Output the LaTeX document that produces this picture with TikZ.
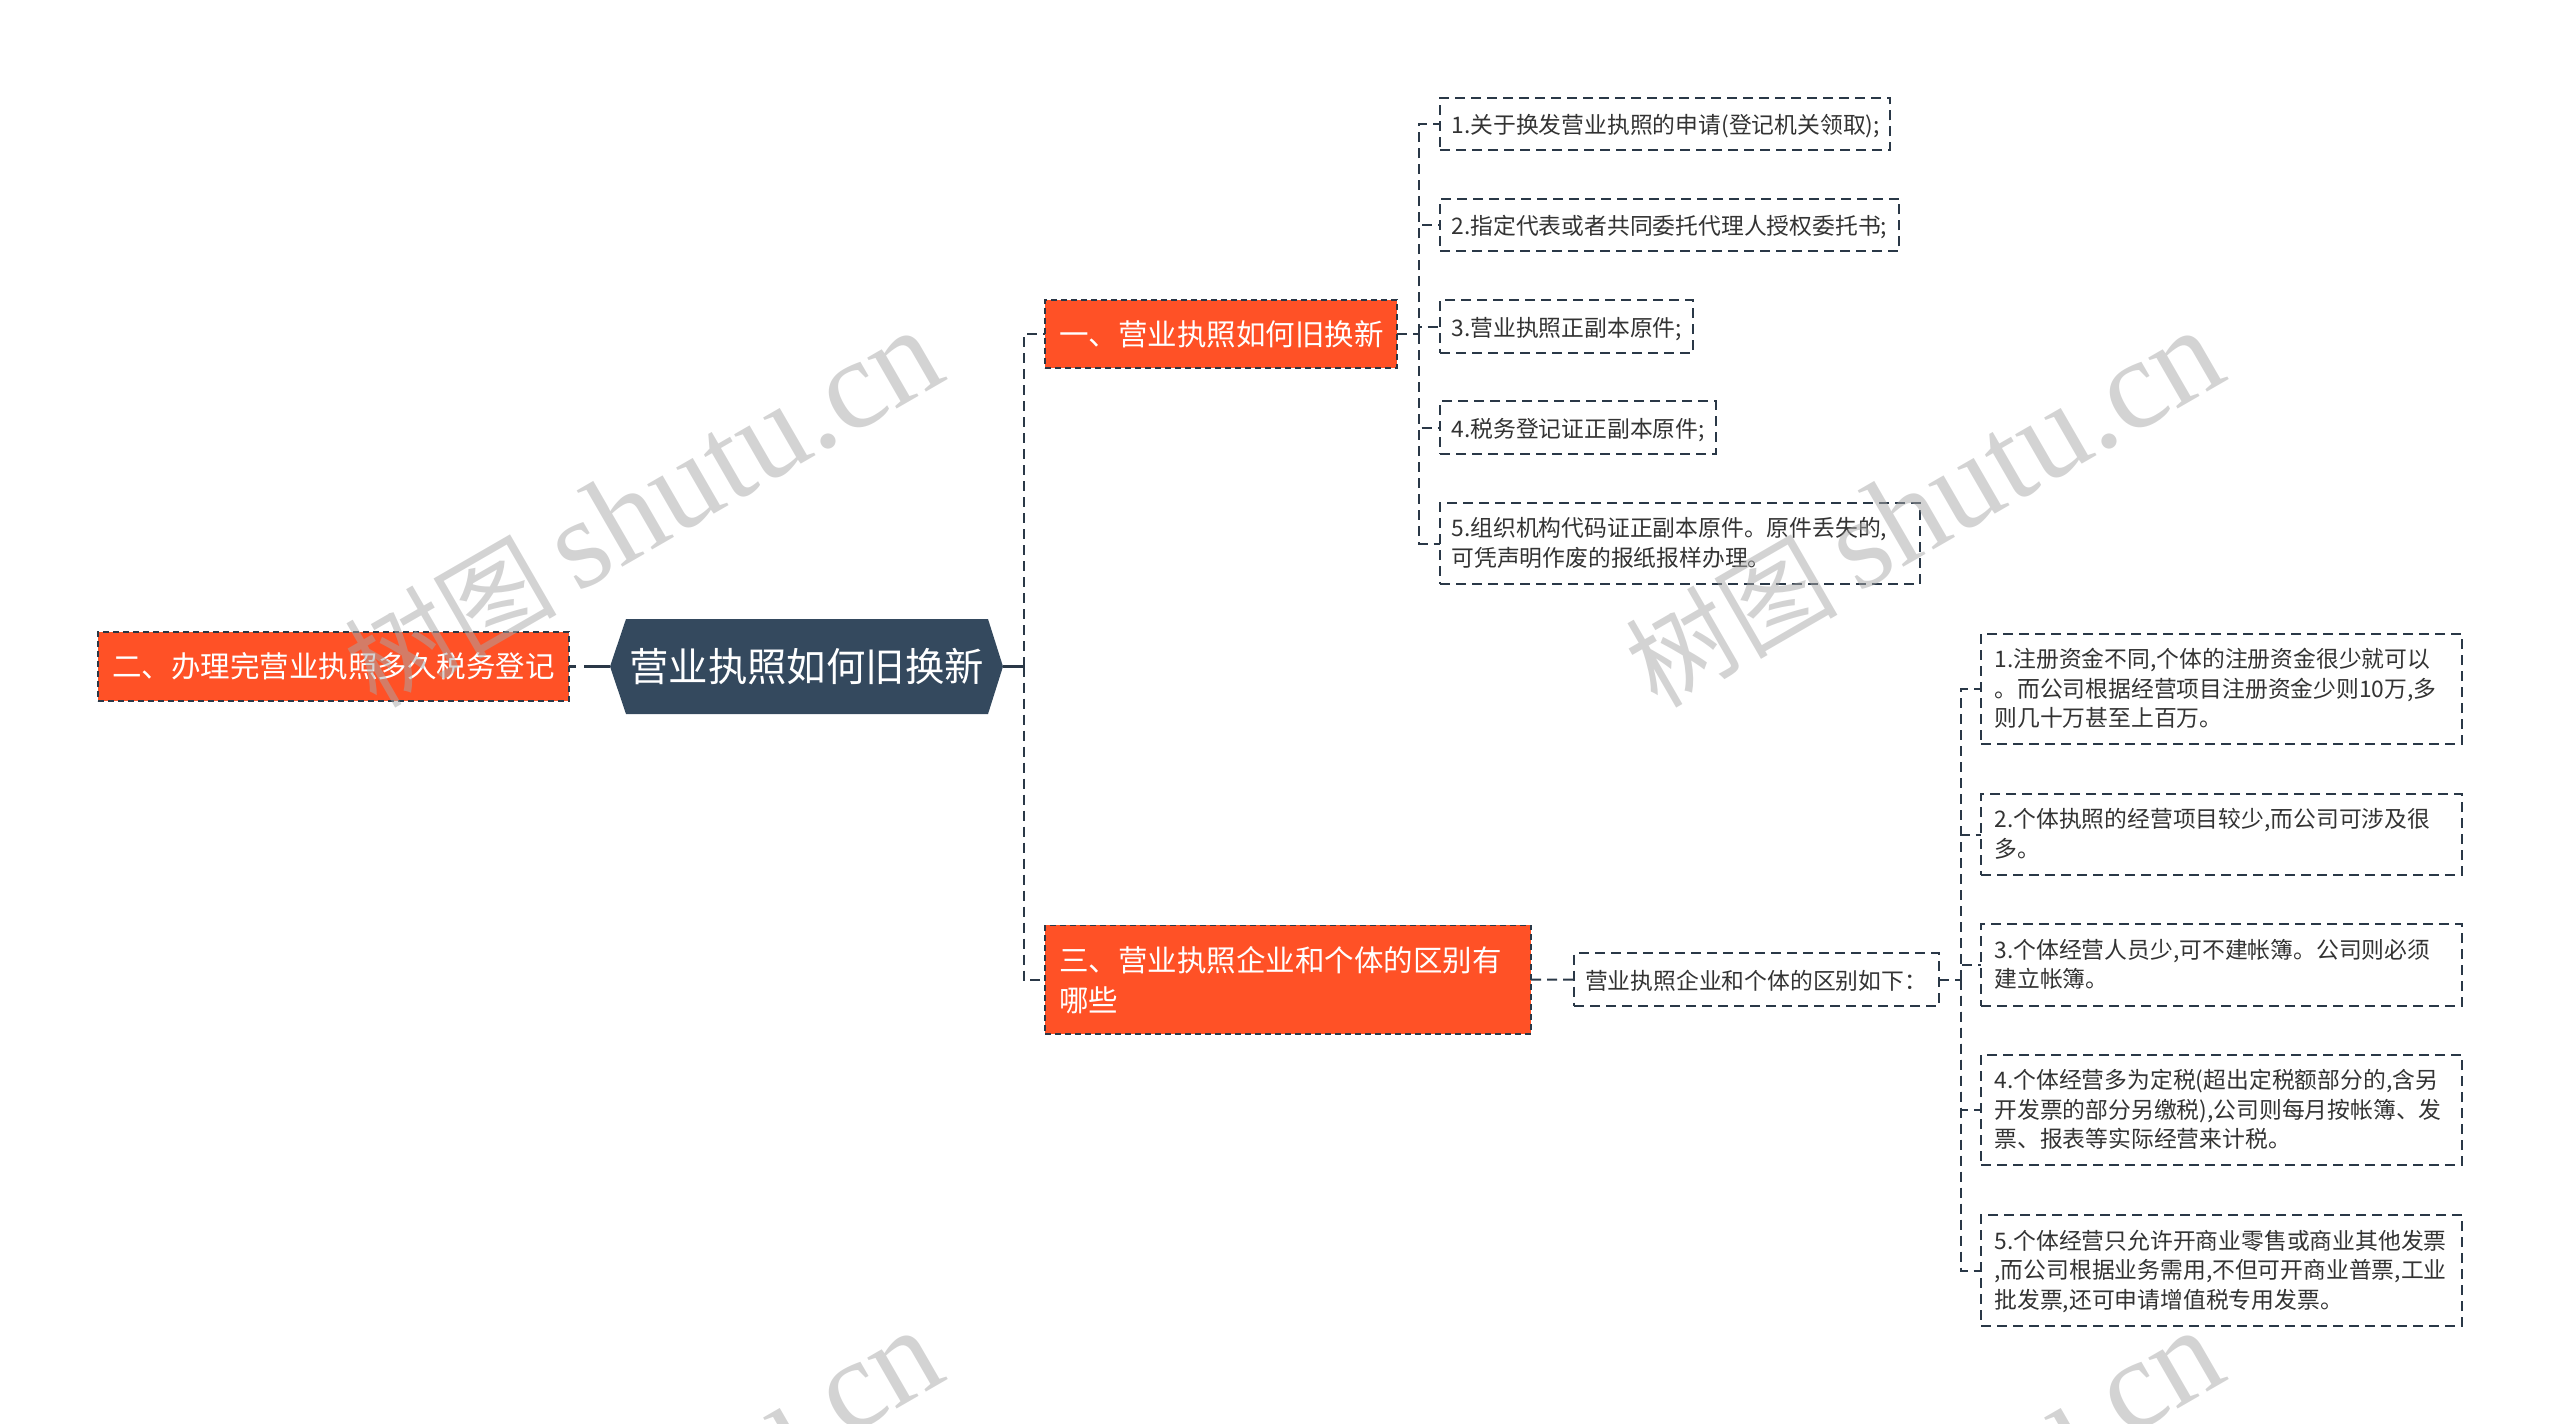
\documentclass[tikz,border=0pt]{standalone}
\usepackage{fontspec}
\setmainfont{Noto Sans CJK SC}
\newfontfamily\wmcjk{Noto Sans CJK SC}
\newfontfamily\wmlat{Liberation Serif}
\definecolor{navy}{HTML}{34495E}
\definecolor{linkink}{HTML}{2A3847}
\definecolor{flame}{HTML}{FF5126}
\definecolor{ink}{HTML}{333333}
\definecolor{wmgray}{HTML}{A8A8A8}
\tikzset{
  x=1pt,y=-1pt,
  branchbox/.style={rectangle,draw=linkink,fill=flame,line width=1.8pt,dash pattern=on 6pt off 4pt,inner sep=0pt,outer sep=0pt,text=white,font=\fontsize{29.5}{40}\selectfont,align=left,anchor=center},
  leafbox/.style={rectangle,draw=linkink,line width=2pt,dash pattern=on 10pt off 6pt,inner sep=0pt,outer sep=0pt,text=ink,font=\fontsize{22.8}{29.5}\selectfont,align=left,anchor=center,execute at begin node={\rule[-5pt]{0pt}{29pt}}},
  rootnode/.style={rectangle,inner sep=0pt,outer sep=0pt,text=white,font=\fontsize{39.4}{46}\selectfont,minimum width=393pt,minimum height=95pt},
  link/.style={draw=linkink,line width=2pt,dash pattern=on 10pt off 6pt},
  rootlink/.style={draw=linkink,line width=3pt,dash pattern=on 26pt off 8pt on 6pt off 0pt},
  wm/.style={rotate=30,anchor=base east,text=wmgray,text opacity=.5,inner sep=0pt,font=\fontsize{128}{128}\selectfont},
}
\newcommand{\wmtext}{{\wmcjk\fontsize{106}{128}\selectfont 树图}\hspace{20pt}{\wmlat shutu.cn}}
\newcommand{\tailfix}{\rule[-8pt]{0pt}{8pt}}
\begin{document}
\begin{tikzpicture}
\useasboundingbox (0,0) rectangle (2560,1424);
% root
\fill[navy] (610,666.5) -- (626,619) -- (988,619) -- (1003,666.5) -- (988,714) -- (626,714) -- cycle;
\node[rootnode] (root) at (806.5,666.5) {营业执照如何旧换新};
% branches
\node[branchbox,minimum width=471pt,minimum height=69pt,text width=442.5pt] (left) at (333.5,666.5) {二、办理完营业执照多久税务登记};
\node[branchbox,minimum width=352pt,minimum height=68pt,text width=323.5pt] (b1) at (1221,334) {一、营业执照如何旧换新};
\node[branchbox,minimum width=486pt,minimum height=108.5pt,text width=457.5pt] (b3) at (1288,979.7) {三、营业执照企业和个体的区别有\\哪些};
% upper leaves
\node[leafbox,minimum width=450pt,minimum height=52.5pt,text width=427pt] (a1) at (1665,124) {1.关于换发营业执照的申请(登记机关领取);};
\node[leafbox,minimum width=459pt,minimum height=52.5pt,text width=436pt] (a2) at (1669.5,225) {2.指定代表或者共同委托代理人授权委托书;};
\node[leafbox,minimum width=253pt,minimum height=53pt,text width=230pt] (a3) at (1566.5,326.5) {3.营业执照正副本原件;};
\node[leafbox,minimum width=275.5pt,minimum height=53pt,text width=252.5pt] (a4) at (1577.75,427.5) {4.税务登记证正副本原件;};
\node[leafbox,minimum width=480pt,minimum height=81pt,text width=457pt] (a5) at (1680,543.5) {5.组织机构代码证正副本原件。原件丢失的,\\可凭声明作废的报纸报样办理。\tailfix};
% middle
\node[leafbox,minimum width=365pt,minimum height=52.6pt,text width=343pt] (m) at (1756.5,979.5) {营业执照企业和个体的区别如下：};
% lower leaves
\node[leafbox,minimum width=481pt,minimum height=110pt,text width=454pt] (c1) at (2221.5,689) {1.注册资金不同,个体的注册资金很少就可以\\。而公司根据经营项目注册资金少则10万,多\\则几十万甚至上百万。\tailfix};
\node[leafbox,minimum width=481pt,minimum height=81pt,text width=454pt] (c2) at (2221.5,834.5) {2.个体执照的经营项目较少,而公司可涉及很\\多。\tailfix};
\node[leafbox,minimum width=481pt,minimum height=82pt,text width=454pt] (c3) at (2221.5,965) {3.个体经营人员少,可不建帐簿。公司则必须\\建立帐簿。\tailfix};
\node[leafbox,minimum width=481pt,minimum height=110pt,text width=454pt] (c4) at (2221.5,1110) {4.个体经营多为定税(超出定税额部分的,含另\\开发票的部分另缴税),公司则每月按帐簿、发\\票、报表等实际经营来计税。\tailfix};
\node[leafbox,minimum width=481pt,minimum height=111pt,text width=454pt] (c5) at (2221.5,1270.5) {5.个体经营只允许开商业零售或商业其他发票\\,而公司根据业务需用,不但可开商业普票,工业\\批发票,还可申请增值税专用发票。\tailfix};
% connectors
\coordinate (t0) at (1023.5,666.5);
\coordinate (t1) at (1419,334);
\coordinate (t2) at (1960.5,979.5);
\draw[rootlink] (root.east) -- (t0);
\draw[rootlink] (root.west) -- (left.east);
\draw[link] (t0) |- (b1.west);
\draw[link] (t0) |- (b3.west);
\draw[link] (b1.east) -- (t1);
\foreach \n in {a1,a2,a3,a4,a5} \draw[link] (t1) |- (\n.west);
\draw[link] (b3.east) -- (m.west);
\draw[link] (m.east) -- (t2);
\foreach \n in {c1,c2,c3,c4,c5} \draw[link] (t2) |- (\n.west);
% watermarks
\foreach \dx/\dy in {0/0,1281/0,0/1000,1281/1000}
  \node[wm] at (950+\dx,378+\dy) {\wmtext};
\end{tikzpicture}
\end{document}
